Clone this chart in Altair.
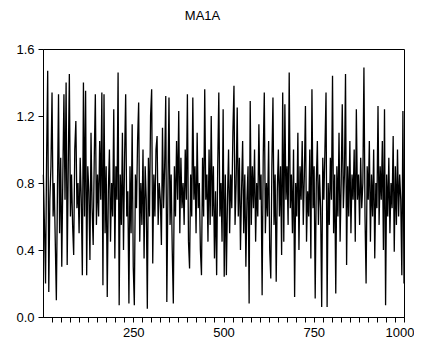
import altair as alt
import pandas as pd

values = [
    0.85, 0.55, 0.20, 0.95, 1.47, 0.15, 0.70, 0.90, 1.34, 0.60,
    0.80, 0.45, 0.10, 0.75, 1.33, 0.50, 0.95, 0.30, 0.85, 1.33,
    0.70, 1.40, 0.31, 0.90, 1.45, 0.60, 0.85, 0.55, 0.37, 1.00,
    1.17, 0.65, 0.80, 0.50, 0.95, 0.70, 0.25, 1.40, 0.60, 1.35,
    0.25, 0.90, 0.75, 0.34, 1.10, 0.65, 0.43, 0.95, 1.33, 0.55,
    0.85, 0.60, 1.05, 0.70, 1.34, 0.19, 1.33, 0.50, 0.90, 0.12,
    0.75, 1.00, 0.45, 0.80, 0.60, 1.24, 0.35, 0.90, 0.70, 1.46,
    0.07, 0.85, 0.55, 1.10, 0.40, 0.95, 1.33, 0.60, 0.75, 0.08,
    0.90, 0.50, 1.15, 0.30, 0.07, 0.85, 0.65, 1.05, 1.28, 0.45,
    0.80, 0.55, 1.00, 0.35, 0.90, 0.70, 0.05, 0.95, 0.60, 1.20,
    1.36, 0.32, 0.85, 0.60, 1.00, 1.08, 0.55, 0.80, 0.70, 0.43,
    1.13, 0.65, 0.90, 1.32, 0.09, 0.75, 1.31, 0.55, 0.85, 0.40,
    0.08, 0.90, 0.60, 1.05, 0.70, 1.23, 0.50, 0.95, 0.65, 0.80,
    0.55, 1.00, 0.70, 1.33, 0.45, 0.29, 0.85, 0.60, 1.31, 0.70,
    0.90, 0.50, 1.10, 0.65, 0.80, 0.40, 0.25, 0.95, 0.60, 1.36,
    0.70, 0.85, 0.45, 1.00, 0.55, 1.20, 0.60, 0.90, 0.35, 0.75,
    0.25, 0.90, 1.34, 0.60, 0.80, 0.45, 1.24, 0.24, 0.85, 0.25,
    0.70, 1.00, 0.50, 0.85, 0.65, 1.10, 1.38, 0.55, 0.80, 1.25,
    0.60, 0.95, 0.40, 0.75, 1.05, 0.50, 0.85, 0.30, 0.70, 0.90,
    0.08, 1.29, 0.55, 0.90, 0.65, 1.00, 0.45, 0.80, 0.60, 1.15,
    0.70, 0.85, 0.13, 0.95, 1.34, 0.50, 0.80, 0.60, 1.05, 0.40,
    0.23, 0.90, 1.31, 0.55, 0.85, 0.21, 0.75, 1.00, 0.60, 0.90,
    0.37, 1.34, 0.45, 1.27, 0.70, 0.90, 0.55, 1.46, 0.65, 0.85,
    0.50, 1.00, 0.12, 0.80, 0.60, 1.10, 0.40, 0.90, 0.70, 1.05,
    0.55, 0.85, 1.26, 0.45, 0.75, 0.60, 1.00, 0.35, 1.36, 0.65,
    0.90, 0.11, 0.80, 1.05, 0.55, 0.85, 0.65, 0.06, 0.95, 0.70,
    1.00, 1.34, 0.06, 0.80, 0.55, 0.95, 0.70, 1.44, 0.50, 0.85,
    0.14, 0.90, 0.60, 1.10, 0.45, 0.80, 1.27, 0.65, 0.85, 1.45,
    0.31, 0.90, 0.60, 1.05, 0.50, 0.85, 0.70, 1.00, 0.45, 1.24,
    0.70, 0.85, 0.55, 0.95, 0.65, 0.80, 1.49, 0.60, 0.20, 0.90,
    0.70, 1.05, 0.45, 0.85, 0.60, 1.00, 0.35, 0.80, 0.65, 1.26,
    0.55, 0.90, 0.70, 1.05, 0.40, 1.24, 0.07, 0.85, 0.60, 0.95,
    0.50, 0.80, 0.65, 1.08, 0.39, 0.90, 0.55, 1.00, 0.60, 0.85,
    0.70, 0.25, 1.23, 0.20,
]
obs = list(range(1, 1001, 3))

x_ticks = list(range(25, 1001, 25))
y_ticks = [0.0, 0.4, 0.8, 1.2, 1.6]
title_text = "MA1A"

df = pd.DataFrame({"obs": obs, "value": values})

chart = alt.Chart(df).mark_line(color="black", strokeWidth=1.3).encode(
    x=alt.X("obs:Q", scale=alt.Scale(domain=[0, 1000], nice=False, zero=False),
            axis=alt.Axis(values=x_ticks, title=None, grid=False,
                          labelExpr="datum.value % 250 == 0 ? datum.label : ''",
                          format="d", tickSize=5, labelPadding=4,
                          labelFlush=True, labelFlushOffset=10,
                          labelOverlap=False)),
    y=alt.Y("value:Q", scale=alt.Scale(domain=[0, 1.6], nice=False),
            axis=alt.Axis(values=y_ticks, title=None, grid=False, format=".1f",
                          tickSize=5, labelPadding=4)),
).properties(
    width=361, height=268,
    title=alt.TitleParams(title_text, fontSize=13, fontWeight="normal",
                          font="Liberation Sans", color="black", offset=20,
                          dx=-21),
    autosize=alt.AutoSizeParams(type="none"),
    padding={"left": 35, "top": 41, "right": 10, "bottom": 23},
).configure_view(stroke="black", strokeWidth=1).configure_axis(
    labelFont="Liberation Sans", labelFontSize=13, labelColor="black",
    domainColor="black", tickColor="black", domainWidth=1,
)

chart.save("out.html", embed_options={"renderer": "svg", "actions": False})
